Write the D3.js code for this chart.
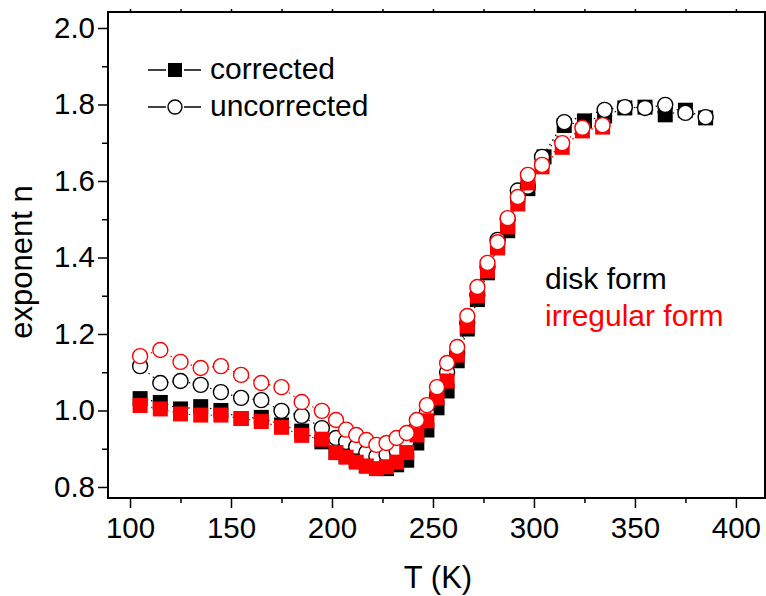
<!DOCTYPE html>
<html>
<head>
<meta charset="utf-8">
<script src="https://cdn.jsdelivr.net/npm/d3@7"></script>
<style>
  body { margin: 0; background: #fff; }
  text { font-family: Arial, 'Liberation Sans', sans-serif; }
</style>
</head>
<body>
<script>
// disk form
const tDisk = [105,115,125,135,145,155,165,175,185,195,202,207,212,217,222,227,232,237,242,247,252,257,262,267,272,277,282,287,292,297,305,315,325,335,345,355,365,375,385];
const diskCorrected = [1.031,1.021,1.004,1.010,1.000,0.979,0.982,0.962,0.946,0.918,0.890,0.880,0.870,0.855,0.850,0.848,0.858,0.870,0.915,0.949,1.007,1.051,1.130,1.213,1.290,1.360,1.430,1.470,1.560,1.580,1.663,1.745,1.757,1.770,1.791,1.793,1.773,1.785,1.765];
const tDiskU = [105,115,125,135,145,155,165,175,185,195,202,207,212,217,222,227,232,237,242,247,252,257,262,267,272,277,282,287,292,297,304,315,335,345,355,365,375,385];
const diskUncorrected = [1.116,1.072,1.077,1.067,1.048,1.033,1.027,0.999,0.986,0.954,0.928,0.918,0.905,0.890,0.880,0.885,0.895,0.920,0.955,0.995,1.040,1.100,1.150,1.230,1.302,1.375,1.446,1.500,1.575,1.585,1.663,1.754,1.786,1.793,1.791,1.799,1.778,1.767];

// irregular form
const tIrr = [105,115,125,135,145,155,165,175,185,195,202,207,212,217,222,227,232,237,242,247,252,257,262,267,272,277,282,287,292,297,304,314,324,334];
const irrCorrected = [1.013,1.004,0.991,0.988,0.988,0.979,0.971,0.956,0.935,0.925,0.890,0.878,0.865,0.855,0.848,0.853,0.865,0.890,0.936,0.973,1.033,1.077,1.145,1.221,1.300,1.365,1.425,1.480,1.540,1.595,1.637,1.688,1.731,1.741];
const irrUncorrected = [1.142,1.158,1.127,1.111,1.116,1.093,1.072,1.061,1.022,0.999,0.975,0.950,0.936,0.923,0.910,0.915,0.928,0.941,0.975,1.014,1.061,1.124,1.166,1.247,1.323,1.386,1.440,1.503,1.558,1.616,1.642,1.699,1.739,1.746];

const xTicks = [100,150,200,250,300,350,400];
const yTicks = [0.8,1.0,1.2,1.4,1.6,1.8,2.0];

const w = 766, h = 596;
const mLeft = 108, mRight = 765, mTop = 12, mBottom = 498;

const svg = d3.select('body')
  .append('svg')
  .attr('width', w)
  .attr('height', h);

const x = d3.scaleLinear().domain([89.1, 414.4]).range([mLeft, mRight]);
const y = d3.scaleLinear().domain([0.7712, 2.0418]).range([mBottom, mTop]);

const zip = (ts, vs) => ts.map((t, i) => [t, vs[i]]);

const series = [
  {data: zip(tDisk, diskCorrected), color: '#000', shape: 'square'},
  {data: zip(tDiskU, diskUncorrected), color: '#000', shape: 'circle'},
  {data: zip(tIrr, irrCorrected), color: '#ff0000', shape: 'square'},
  {data: zip(tIrr, irrUncorrected), color: '#ff0000', shape: 'circle'}
];

const line = d3.line().x(d => x(d[0])).y(d => y(d[1]));

series.forEach(s => {
  svg.append('path')
    .datum(s.data)
    .attr('d', line)
    .attr('fill', 'none')
    .attr('stroke', s.color)
    .attr('stroke-width', 1.2)
    .attr('stroke-dasharray', '1.5,4');

  if (s.shape === 'square') {
    svg.selectAll(null)
      .data(s.data)
      .enter()
      .append('rect')
      .attr('x', d => x(d[0]) - 7.5)
      .attr('y', d => y(d[1]) - 7.5)
      .attr('width', 15)
      .attr('height', 15)
      .attr('fill', s.color);
  } else {
    svg.selectAll(null)
      .data(s.data)
      .enter()
      .append('circle')
      .attr('cx', d => x(d[0]))
      .attr('cy', d => y(d[1]))
      .attr('r', 7.5)
      .attr('fill', '#fff')
      .attr('stroke', s.color)
      .attr('stroke-width', 1.4);
  }
});

// axes
const xAxis = d3.axisBottom(x).tickValues(xTicks).tickSize(10).tickPadding(9).tickFormat(d3.format('d'));
const xMinor = d3.axisBottom(x).tickValues(d3.range(125, 401, 50)).tickSize(5).tickFormat('');
const xTop = d3.axisTop(x).tickValues(d3.range(100, 401, 25)).tickSize(3).tickFormat('');
const yAxis = d3.axisLeft(y).tickValues(yTicks).tickSize(10).tickPadding(3).tickFormat(d3.format('.1f'));
const yMinor = d3.axisLeft(y).tickValues([0.9,1.1,1.3,1.5,1.7,1.9]).tickSize(6).tickFormat('');

svg.append('g').attr('transform', 'translate(0,' + mBottom + ')').call(xAxis);
svg.append('g').attr('transform', 'translate(0,' + mBottom + ')').call(xMinor);
svg.append('g').attr('transform', 'translate(0,' + mTop + ')').call(xTop);
svg.append('g').attr('transform', 'translate(' + mLeft + ',0)').call(yAxis);
svg.append('g').attr('transform', 'translate(' + mLeft + ',0)').call(yMinor);

svg.selectAll('.domain').remove();
svg.selectAll('.tick line').attr('stroke', '#000').attr('stroke-width', 1.5);
svg.selectAll('.tick text').attr('fill', '#000').style('font-size', '29.5px');

// frame
svg.append('rect')
  .attr('x', mLeft)
  .attr('y', mTop)
  .attr('width', mRight - mLeft)
  .attr('height', mBottom - mTop)
  .attr('fill', 'none')
  .attr('stroke', '#000')
  .attr('stroke-width', 2);

// axis titles
svg.append('text')
  .attr('x', 438)
  .attr('y', 588)
  .attr('text-anchor', 'middle')
  .style('font-size', '31px')
  .text('T (K)');

svg.append('text')
  .attr('transform', 'translate(32,' + 262 + ') rotate(-90)')
  .attr('text-anchor', 'middle')
  .style('font-size', '31px')
  .text('exponent n');

// legend
const legend = [
  {label: 'corrected', shape: 'square', ly: 70},
  {label: 'uncorrected', shape: 'circle', ly: 107}
];
legend.forEach(l => {
  svg.append('line').attr('x1', 148).attr('x2', 166).attr('y1', l.ly).attr('y2', l.ly)
    .attr('stroke', '#000').attr('stroke-width', 1.5);
  svg.append('line').attr('x1', 184).attr('x2', 201).attr('y1', l.ly).attr('y2', l.ly)
    .attr('stroke', '#000').attr('stroke-width', 1.5);
  if (l.shape === 'square') {
    svg.append('rect').attr('x', 168).attr('y', l.ly - 7).attr('width', 14).attr('height', 14).attr('fill', '#000');
  } else {
    svg.append('circle').attr('cx', 175).attr('cy', l.ly).attr('r', 7).attr('fill', '#fff')
      .attr('stroke', '#000').attr('stroke-width', 1.4);
  }
  svg.append('text').attr('x', 210).attr('y', l.ly + 9).style('font-size', '30px').text(l.label);
});

svg.append('text').attr('x', 545).attr('y', 289).style('font-size', '30px').attr('fill', '#000').text('disk form');
svg.append('text').attr('x', 545).attr('y', 326).style('font-size', '30px').attr('fill', '#ff0000').text('irregular form');
</script>
</body>
</html>
